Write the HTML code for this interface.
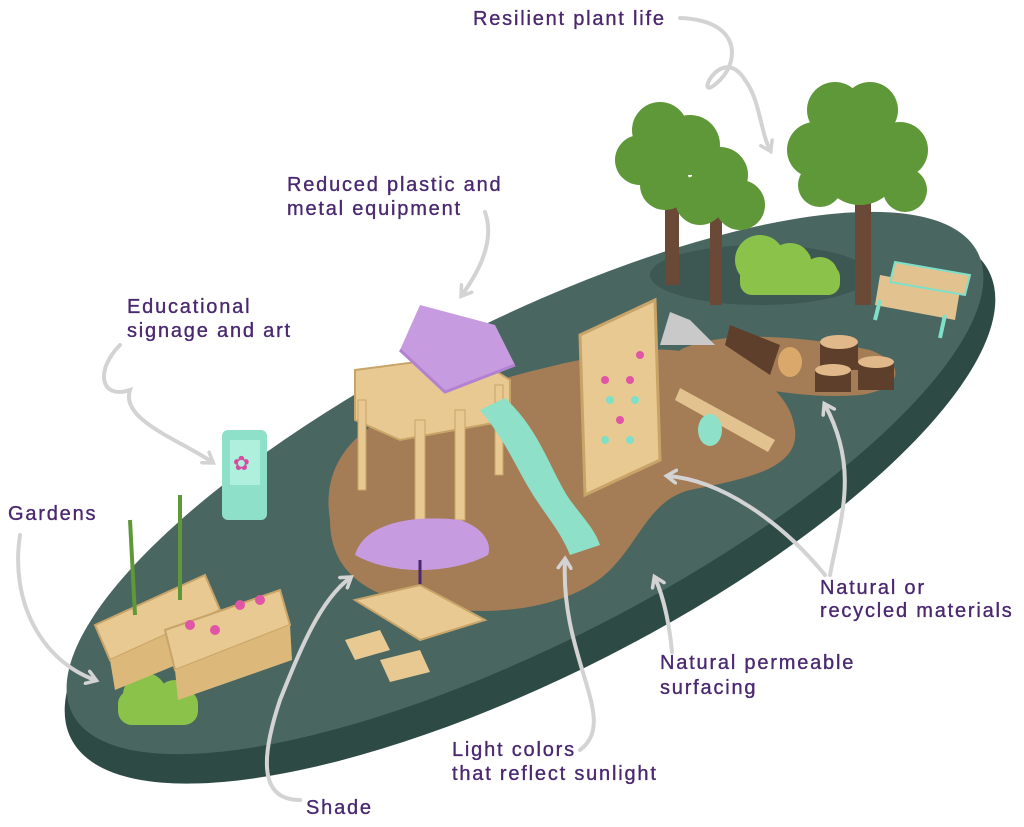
<!DOCTYPE html>
<html><head><meta charset="utf-8"><style>
html,body{margin:0;padding:0;background:#fff;width:1024px;height:827px;overflow:hidden}
svg{display:block}
text{font-family:"Liberation Sans",sans-serif;font-size:20px;fill:#4a2870;stroke:#4a2870;stroke-width:0.35px;letter-spacing:1.8px}
.a{fill:none;stroke:#d3d3d3;stroke-width:4;stroke-linecap:round;marker-end:url(#m)}
</style></head><body>
<svg width="1024" height="827" viewBox="0 0 1024 827" xmlns="http://www.w3.org/2000/svg">
<defs><marker id="m" viewBox="0 0 10 10" refX="6" refY="5" markerWidth="4" markerHeight="4" orient="auto"><path d="M1,1 L7,5 L1,9" fill="none" stroke="#d3d3d3" stroke-width="2.2" stroke-linecap="round"/></marker></defs>
<ellipse cx="530" cy="505" rx="515" ry="170" transform="rotate(-27 530 505)" fill="#2e4a45"/>
<ellipse cx="525" cy="483" rx="508" ry="160" transform="rotate(-27 525 483)" fill="#4a6661"/>
<ellipse cx="760" cy="275" rx="110" ry="30" fill="#3d5853"/>
<path d="M330,520 C320,460 360,420 430,400 C500,380 560,360 640,350 C720,345 790,380 795,430 C800,470 740,480 690,490 C650,500 640,540 610,570 C580,600 520,615 460,610 C380,605 330,580 330,520Z" fill="#a47c55"/>
<path d="M680,350 C720,330 800,335 870,350 C910,365 900,390 860,395 C800,400 740,385 690,375Z" fill="#a47c55"/>
<rect x="665" y="180" width="14" height="105" fill="#6a4a36"/>
<rect x="710" y="200" width="12" height="105" fill="#6a4a36"/>
<rect x="855" y="180" width="16" height="125" fill="#6a4a36"/>
<g fill="#5f9838">
<circle cx="660" cy="130" r="28"/><circle cx="640" cy="160" r="25"/><circle cx="690" cy="145" r="30"/><circle cx="720" cy="175" r="28"/><circle cx="740" cy="205" r="25"/><circle cx="700" cy="200" r="25"/><circle cx="665" cy="185" r="25"/>
<circle cx="835" cy="110" r="28"/><circle cx="870" cy="110" r="28"/><circle cx="815" cy="150" r="28"/><circle cx="900" cy="150" r="28"/><circle cx="860" cy="165" r="40"/><circle cx="820" cy="185" r="22"/><circle cx="905" cy="190" r="22"/>
</g>
<g fill="#8bc34a"><circle cx="760" cy="260" r="25"/><circle cx="790" cy="265" r="22"/><circle cx="820" cy="275" r="18"/><rect x="740" y="265" width="100" height="30" rx="12"/>
<circle cx="145" cy="695" r="22"/><rect x="118" y="690" width="80" height="35" rx="14"/><circle cx="175" cy="700" r="20"/></g>
<path d="M880,275 L960,290 L955,320 L875,305Z" fill="#e2c38f"/><path d="M895,262 L970,275 L965,295 L890,282Z" fill="#e2c38f" stroke="#7ee0c8" stroke-width="2"/>
<line x1="880" y1="300" x2="875" y2="320" stroke="#7ee0c8" stroke-width="4"/><line x1="945" y1="315" x2="940" y2="338" stroke="#7ee0c8" stroke-width="4"/>
<path d="M660,345 L670,312 L690,320 L715,345Z" fill="#c9c9c9"/>
<path d="M730,325 L780,345 L770,375 L725,345Z" fill="#5e3f2c"/><ellipse cx="790" cy="362" rx="12" ry="15" fill="#d9a86a"/>
<rect x="820" y="342" width="38" height="28" fill="#5e3f2c"/><ellipse cx="839" cy="342" rx="19" ry="7" fill="#e0b88a"/>
<rect x="815" y="370" width="36" height="22" fill="#5e3f2c"/><ellipse cx="833" cy="370" rx="18" ry="6" fill="#e0b88a"/>
<rect x="858" y="362" width="36" height="28" fill="#5e3f2c"/><ellipse cx="876" cy="362" rx="18" ry="6" fill="#e0b88a"/>
<path d="M680,388 L775,440 L768,452 L675,400Z" fill="#e2c38f"/><ellipse cx="710" cy="430" rx="12" ry="16" fill="#8fe0c8"/>
<path d="M580,335 L655,300 L660,460 L585,495Z" fill="#e7c991" stroke="#c9a468" stroke-width="3"/>
<g fill="#e055a5"><circle cx="605" cy="380" r="4"/><circle cx="630" cy="380" r="4"/><circle cx="620" cy="420" r="4"/><circle cx="640" cy="355" r="4"/></g>
<g fill="#7ee0c8"><circle cx="610" cy="400" r="4"/><circle cx="635" cy="400" r="4"/><circle cx="605" cy="440" r="4"/><circle cx="630" cy="440" r="4"/></g>
<path d="M355,370 L470,355 L510,380 L510,420 L400,440 L355,420Z" fill="#e7c991" stroke="#c9a468" stroke-width="2"/>
<g fill="#e7c991" stroke="#c9a468" stroke-width="1"><rect x="358" y="400" width="8" height="90"/><rect x="415" y="420" width="10" height="100"/><rect x="455" y="410" width="10" height="110"/><rect x="495" y="385" width="8" height="90"/></g>
<path d="M400,350 L420,305 L495,325 L515,365 L445,392Z" fill="#c79be0"/>
<path d="M400,350 L445,392 L515,365" fill="none" stroke="#b282d0" stroke-width="3"/>
<path d="M480,410 L505,398 C540,430 550,470 570,500 C585,520 595,530 600,545 L570,555 C560,530 545,515 530,490 C515,465 505,440 480,410Z" fill="#8fe0c8"/>
<rect x="222" y="430" width="45" height="90" rx="6" fill="#8fe0c8"/><rect x="230" y="440" width="30" height="45" fill="#aff0dd"/>
<text x="233" y="470" style="fill:#d44da0;stroke:none;font-size:20px">✿</text>
<path d="M355,555 C365,520 420,515 460,520 C485,528 492,545 488,555 C450,575 390,575 355,555Z" fill="#c79be0"/>
<line x1="420" y1="560" x2="420" y2="615" stroke="#4a2870" stroke-width="3"/>
<path d="M355,600 L420,585 L485,620 L420,640Z" fill="#e7c991" stroke="#c9a468" stroke-width="2"/>
<path d="M345,640 L380,630 L390,650 L355,660Z" fill="#e7c991"/><path d="M380,660 L420,650 L430,672 L390,682Z" fill="#e7c991"/>
<path d="M95,625 L205,575 L220,610 L110,660Z" fill="#e7c991" stroke="#c9a468" stroke-width="2"/>
<path d="M110,660 L220,610 L225,645 L115,690Z" fill="#dcb87a"/>
<path d="M165,630 L280,590 L290,625 L175,670Z" fill="#e7c991" stroke="#c9a468" stroke-width="2"/>
<path d="M175,670 L290,625 L292,660 L178,700Z" fill="#dcb87a"/>
<g stroke="#5f9838" stroke-width="4" fill="none"><path d="M135,615 L130,520"/><path d="M180,600 L180,495"/></g>
<g fill="#e055a5"><circle cx="190" cy="625" r="5"/><circle cx="240" cy="605" r="5"/><circle cx="215" cy="630" r="5"/><circle cx="260" cy="600" r="5"/></g>
<path class="a" d="M680,18 C740,20 740,60 720,80 C690,110 720,40 745,80 C760,100 760,130 770,150"/>
<path class="a" d="M485,212 C495,240 480,270 462,295"/>
<path class="a" d="M120,345 C95,370 100,400 130,390 C120,420 180,440 212,462"/>
<path class="a" d="M20,535 C10,600 40,660 95,680"/>
<path class="a" d="M830,575 C840,520 860,470 825,405"/>
<path class="a" d="M825,575 C780,520 720,480 668,476"/>
<path class="a" d="M672,652 C670,630 665,600 655,578"/>
<path class="a" d="M580,750 C620,720 560,660 565,560"/>
<path class="a" d="M300,800 C260,800 260,760 280,700 C300,650 320,600 350,578"/>
<text x="473" y="25">Resilient plant life</text>
<text x="287" y="191">Reduced plastic and</text>
<text x="287" y="215">metal equipment</text>
<text x="127" y="313">Educational</text>
<text x="127" y="337">signage and art</text>
<text x="8" y="520">Gardens</text>
<text x="820" y="594">Natural or</text>
<text x="820" y="617">recycled materials</text>
<text x="660" y="669">Natural permeable</text>
<text x="660" y="694">surfacing</text>
<text x="452" y="756">Light colors</text>
<text x="452" y="780">that reflect sunlight</text>
<text x="306" y="814">Shade</text>
</svg>
</body></html>
